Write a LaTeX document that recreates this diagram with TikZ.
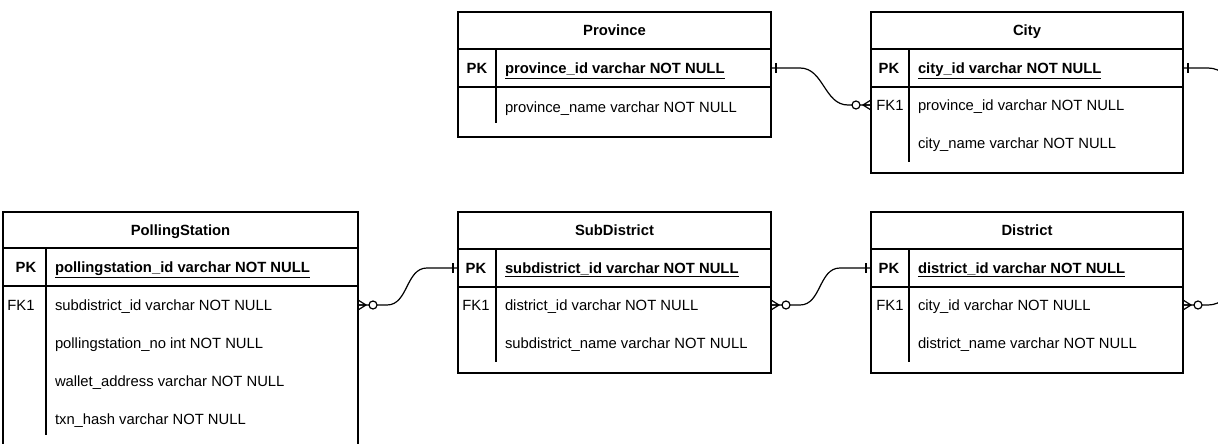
\documentclass[tikz,border=0pt]{standalone}
\usepackage{fontspec}
\setmainfont{Liberation Sans}
\usetikzlibrary{calc}

\begin{document}
\begin{tikzpicture}
	[
	 x = 1pt, y = -1pt,
	 line width = 1.2pt,
	 every node/.style = {inner sep = 0pt,
	                      outer sep = 0pt,
	                      font = \fontsize{14.8}{18}\selectfont,
	                      text height = 10.8pt,
	                      text depth = 0pt},
	 tbl/.style   = {draw, anchor = north west},
	 title/.style = {font = \fontsize{14.8}{18}\selectfont\bfseries},
	 key/.style   = {font = \fontsize{14.8}{18}\selectfont\bfseries},
	 fkey/.style  = {},
	 attr/.style  = {anchor = west},
	 pkattr/.style = {anchor = west,
	                  font = \fontsize{14.8}{18}\selectfont\bfseries},
	 mandone/.pic  = {\draw (5,-5) -- (5,5);},
	 zeromany/.pic = {\draw (0,-5) -- (8,0) -- (0,5) (0,0) -- (8,0);
	                  \draw [fill = white] (15,0) circle (4);}
	]
	
	\useasboundingbox (0,0) rectangle (1218,444);
	\clip (0,0) rectangle (1218,444);
	
	% Province
	\node [tbl, minimum width = 313, minimum height = 125] (province) at (458,12) {};
	\node [title] (province-title) at (614.5,30.5) {Province};
	\draw (province.west |- 0,49) -- (province.east |- 0,49);
	\draw (province.west |- 0,87) -- (province.east |- 0,87);
	\draw (496,49) -- (496,123);
	\node [key]    (prov-pkkey) at (477,68)  {PK};
	\node [pkattr] (prov-pk)    at (505,68)  {\underline{province\_id varchar NOT NULL}};
	\node [attr]   (prov-name)  at (505,107) {province\_name varchar NOT NULL};
	
	% City
	\node [tbl, minimum width = 312, minimum height = 161] (city) at (871,12) {};
	\node [title] (city-title) at (1027,30.5) {City};
	\draw (city.west |- 0,49) -- (city.east |- 0,49);
	\draw (city.west |- 0,87) -- (city.east |- 0,87);
	\draw (909,49) -- (909,162);
	\node [key]    (city-pkkey)  at (889,68)  {PK};
	\node [fkey]   (city-fk1key) at (890,105) {FK1};
	\node [pkattr] (city-pk)     at (918,68)  {\underline{city\_id varchar NOT NULL}};
	\node [attr]   (city-fk1)    at (918,105) {province\_id varchar NOT NULL};
	\node [attr]   (city-name)   at (918,143) {city\_name varchar NOT NULL};
	
	% PollingStation
	\node [tbl, minimum width = 355, minimum height = 240] (station) at (3,212) {};
	\node [title] (station-title) at (180.5,230) {PollingStation};
	\draw (station.west |- 0,248) -- (station.east |- 0,248);
	\draw (station.west |- 0,286) -- (station.east |- 0,286);
	\draw (46,248) -- (46,435);
	\node [key]    (station-pkkey)  at (26,267) {PK};
	\node [fkey]   (station-fk1key) at (21,305) {FK1};
	\node [pkattr] (station-pk)     at (55,267) {\underline{pollingstation\_id varchar NOT NULL}};
	\node [attr]   (station-fk1)    at (55,305) {subdistrict\_id varchar NOT NULL};
	\node [attr]   (station-no)     at (55,343) {pollingstation\_no int NOT NULL};
	\node [attr]   (station-wallet) at (55,381) {wallet\_address varchar NOT NULL};
	\node [attr]   (station-txn)    at (55,419) {txn\_hash varchar NOT NULL};
	
	% SubDistrict
	\node [tbl, minimum width = 313, minimum height = 161] (subdistrict) at (458,212) {};
	\node [title] (subdistrict-title) at (614.5,230.5) {SubDistrict};
	\draw (subdistrict.west |- 0,249) -- (subdistrict.east |- 0,249);
	\draw (subdistrict.west |- 0,287) -- (subdistrict.east |- 0,287);
	\draw (496,249) -- (496,362);
	\node [key]    (sub-pkkey)  at (476,268) {PK};
	\node [fkey]   (sub-fk1key) at (476,305) {FK1};
	\node [pkattr] (sub-pk)     at (505,268) {\underline{subdistrict\_id varchar NOT NULL}};
	\node [attr]   (sub-fk1)    at (505,305) {district\_id varchar NOT NULL};
	\node [attr]   (sub-name)   at (505,343) {subdistrict\_name varchar NOT NULL};
	
	% District
	\node [tbl, minimum width = 312, minimum height = 161] (district) at (871,212) {};
	\node [title] (district-title) at (1027,230.5) {District};
	\draw (district.west |- 0,249) -- (district.east |- 0,249);
	\draw (district.west |- 0,287) -- (district.east |- 0,287);
	\draw (909,249) -- (909,362);
	\node [key]    (dist-pkkey)  at (889,268) {PK};
	\node [fkey]   (dist-fk1key) at (890,305) {FK1};
	\node [pkattr] (dist-pk)     at (918,268) {\underline{district\_id varchar NOT NULL}};
	\node [attr]   (dist-fk1)    at (918,305) {city\_id varchar NOT NULL};
	\node [attr]   (dist-name)   at (918,343) {district\_name varchar NOT NULL};
	
	% relations
	\draw (province.east |- prov-pk) -- ++(29,0)
	      to [out = 0, in = 180] ($(city.west |- city-fk1) + (-23,0)$)
	      -- (city.west |- city-fk1);
	\path (province.east |- prov-pk) pic {mandone};
	\path (city.west |- city-fk1) pic [xscale = -1] {zeromany};
	
	\draw (station.east |- station-fk1) -- ++(29,0)
	      to [out = 0, in = 180] ($(subdistrict.west |- sub-pk) + (-31,0)$)
	      -- (subdistrict.west |- sub-pk);
	\path (station.east |- station-fk1) pic {zeromany};
	\path (subdistrict.west |- sub-pk) pic [xscale = -1] {mandone};
	
	\draw (subdistrict.east |- sub-fk1) -- ++(29,0)
	      to [out = 0, in = 180] ($(district.west |- dist-pk) + (-31,0)$)
	      -- (district.west |- dist-pk);
	\path (subdistrict.east |- sub-fk1) pic {zeromany};
	\path (district.west |- dist-pk) pic [xscale = -1] {mandone};
	
	\draw (district.east |- dist-fk1) -- ++(25,0)
	      to [out = 0, in = -90] ++(24,-24)
	      -- ($(city.east |- city-pk) + (49,24)$)
	      to [out = 90, in = 0] ($(city.east |- city-pk) + (25,0)$)
	      -- (city.east |- city-pk);
	\path (district.east |- dist-fk1) pic {zeromany};
	\path (city.east |- city-pk) pic {mandone};
\end{tikzpicture}
\end{document}
